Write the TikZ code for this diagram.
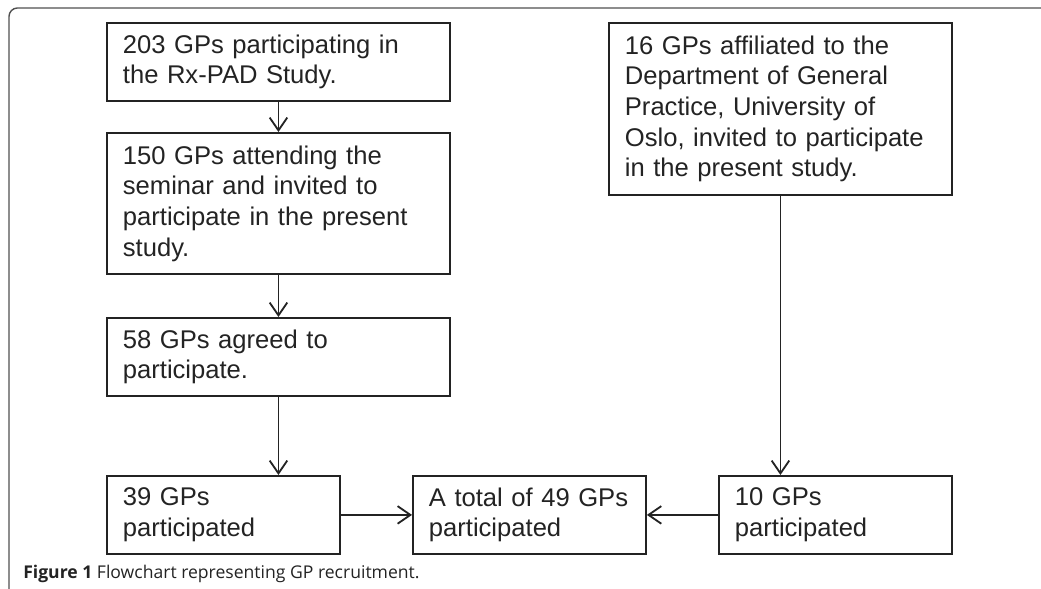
\documentclass[tikz,border=0pt]{standalone}
\usepackage{fontspec}
\setmainfont{Liberation Sans}
\newfontfamily\captionfont{Open Sans}
\usetikzlibrary{positioning,arrows.meta}
\definecolor{inkgray}{RGB}{35,35,35}
\definecolor{framegray}{RGB}{80,80,80}
\tikzset{
  gpbox/.style={draw=inkgray,line width=1.3pt,anchor=north west,align=left,
    inner xsep=0.4cm,text=inkgray,font=\fontsize{18.2}{21.8}\selectfont},
  flow/.style={draw=inkgray,line width=1.3pt,
    -{Straight Barb[length=0.32cm,width=0.44cm]}}
}

\begin{document}
\begin{tikzpicture}[x=0.025cm,y=-0.025cm]
  \useasboundingbox (0,0) rectangle (1041,589);
  % outer frame (cut at the page edge)
  \draw[framegray,line width=1pt,rounded corners=6pt]
        (9,600) -- (9,8) -- (1060,8);

  % left column
  \node[gpbox,text width=7.775cm,minimum height=1.95cm] (rxpad) at (106,22)
    {203 GPs participating in\\the Rx-PAD Study.};
  \node[gpbox,text width=7.775cm,minimum height=3.525cm] (seminar) at (106,132)
    {150 GPs attending the\\seminar and invited to\\participate in the present\\study.};
  \node[gpbox,text width=7.775cm,minimum height=1.95cm] (agreed) at (106,317)
    {58 GPs agreed to\\participate.};

  % right column
  \node[gpbox,text width=7.775cm,minimum height=4.3cm] (oslo) at (608,22)
    {16 GPs affiliated to the\\Department of General\\Practice, University of\\Oslo, invited to participate\\in the present study.};

  % bottom row
  \node[gpbox,text width=5.025cm,minimum height=1.95cm] (part39) at (106,475)
    {39 GPs\\participated};
  \node[gpbox,text width=5.025cm,minimum height=1.95cm] (total) at (412,475)
    {A total of 49 GPs\\participated};
  \node[gpbox,text width=5.025cm,minimum height=1.95cm] (part10) at (718,475)
    {10 GPs\\participated};

  \draw[flow] (rxpad.south) -- (seminar.north);
  \draw[flow] (seminar.south) -- (agreed.north);
  \draw[flow] (agreed.south) -- (agreed.south |- part39.north);
  \draw[flow] (oslo.south) -- (oslo.south |- part10.north);
  \draw[flow] (part39.east) -- (total.west);
  \draw[flow] (part10.west) -- (total.east);

  \node[anchor=west,inner sep=0,text=inkgray,
        font=\captionfont\fontsize{12.5}{14}\selectfont] (caption) at (23,574)
    {\textbf{Figure 1} Flowchart representing GP recruitment.};
\end{tikzpicture}
\end{document}
